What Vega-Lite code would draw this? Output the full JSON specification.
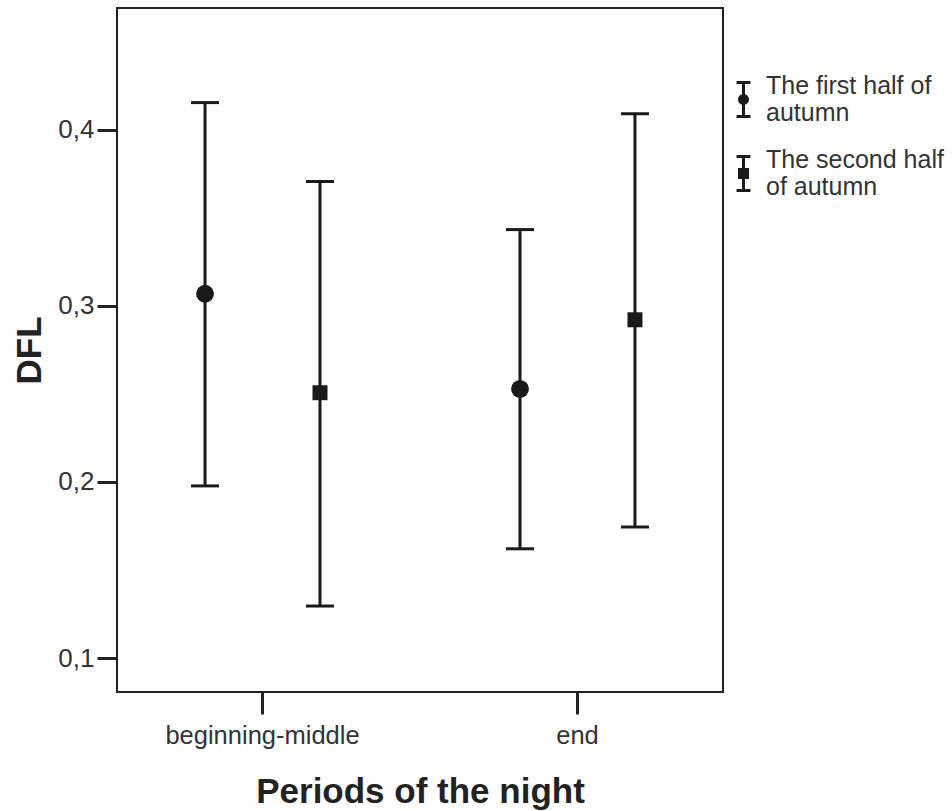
{
  "$schema": "https://vega.github.io/schema/vega-lite/v6.json",
  "autosize": {"type": "none"},
  "padding": {"left": 117, "top": 8, "right": 229, "bottom": 119},
  "width": 606,
  "height": 684,
  "background": "white",
  "config": {
    "font": "Liberation Sans",
    "view": {"stroke": "#222", "strokeWidth": 2},
    "axis": {"grid": false, "domain": false, "tickColor": "#222", "tickWidth": 3, "labelColor": "#333", "titleColor": "#222", "labelLimit": 400}
  },
  "data": {
    "values": [
      {"period": "beginning-middle", "half": "The first half of autumn", "mean": 0.3068, "lo": 0.1977, "hi": 0.4153},
      {"period": "beginning-middle", "half": "The second half of autumn", "mean": 0.2506, "lo": 0.1295, "hi": 0.3705},
      {"period": "end", "half": "The first half of autumn", "mean": 0.2528, "lo": 0.162, "hi": 0.3432},
      {"period": "end", "half": "The second half of autumn", "mean": 0.292, "lo": 0.1744, "hi": 0.409}
    ]
  },
  "encoding": {
    "x": {
      "field": "period", "type": "nominal",
      "scale": {"type": "band", "paddingInner": 0.5, "paddingOuter": 0.212},
      "axis": {
        "labelAngle": 0, "tickSize": 22, "labelFontSize": 25.5, "labelPadding": 9,
        "title": "Periods of the night", "titleFontSize": 35, "titleFontWeight": "bold",
        "titleY": 110, "titleBaseline": "alphabetic"
      }
    },
    "xOffset": {
      "field": "half", "type": "nominal",
      "scale": {"type": "band", "paddingInner": 0.8, "paddingOuter": 0.085}
    }
  },
  "layer": [
    {
      "mark": {"type": "rule", "strokeWidth": 3, "color": "#1a1a1a"},
      "encoding": {
        "y": {
          "field": "lo", "type": "quantitative",
          "scale": {"domain": [0.0807, 0.469], "nice": false, "zero": false},
          "axis": {
            "values": [0.1, 0.2, 0.3, 0.4],
            "labelExpr": "replace(format(datum.value, '.1f'), '.', ',')",
            "tickSize": 20, "labelFontSize": 26, "labelPadding": 3,
            "title": "DFL", "titleFontSize": 35, "titleFontWeight": "bold",
            "titleX": -77, "titleY": 342, "titleAngle": -90, "titleAlign": "center", "titleBaseline": "alphabetic"
          }
        },
        "y2": {"field": "hi"}
      }
    },
    {
      "mark": {"type": "tick", "thickness": 3, "size": 28, "color": "#1a1a1a", "opacity": 1},
      "encoding": {"y": {"field": "lo", "type": "quantitative"}}
    },
    {
      "mark": {"type": "tick", "thickness": 3, "size": 28, "color": "#1a1a1a", "opacity": 1},
      "encoding": {"y": {"field": "hi", "type": "quantitative"}}
    },
    {
      "transform": [{"filter": "datum.half == 'The first half of autumn'"}],
      "mark": {"type": "point", "shape": "circle", "filled": true, "opacity": 1, "color": "#1a1a1a", "size": 320},
      "encoding": {"y": {"field": "mean", "type": "quantitative"}}
    },
    {
      "transform": [{"filter": "datum.half == 'The second half of autumn'"}],
      "mark": {"type": "point", "shape": "square", "filled": true, "opacity": 1, "color": "#1a1a1a", "size": 225},
      "encoding": {"y": {"field": "mean", "type": "quantitative"}}
    },
    {
      "mark": {"type": "point", "filled": false, "opacity": 0, "color": "#1a1a1a", "strokeWidth": 3},
      "encoding": {
        "y": {"field": "mean", "type": "quantitative"},
        "shape": {
          "field": "half", "type": "nominal",
          "scale": {"range": [
            "M-0.41,-0.21H0.41M0,-0.21V1.79M-0.41,1.79H0.41M-0.235,0.79A0.235,0.235 0 1,1 0.235,0.79A0.235,0.235 0 1,1 -0.235,0.79ZM-0.09,0.79A0.09,0.09 0 1,1 0.09,0.79A0.09,0.09 0 1,1 -0.09,0.79Z",
            "M-0.41,-0.21H0.41M0,-0.21V1.79M-0.41,1.79H0.41M-0.235,0.555H0.235V1.025H-0.235ZM-0.09,0.7H0.09V0.88H-0.09Z"
          ]},
          "legend": {
            "title": null, "orient": "none", "legendX": 608, "legendY": 59.5,
            "padding": 0, "symbolSize": 1156, "symbolStrokeWidth": 3, "symbolOpacity": 1,
            "symbolStrokeColor": "#1a1a1a",
            "labelFontSize": 25, "labelColor": "#333",
            "labelOffset": 4, "rowPadding": 15, "labelLimit": 300,
            "labelExpr": "datum.label == 'The first half of autumn' ? ['The first half of', 'autumn'] : ['The second half', 'of autumn']"
          }
        }
      }
    }
  ]
}
